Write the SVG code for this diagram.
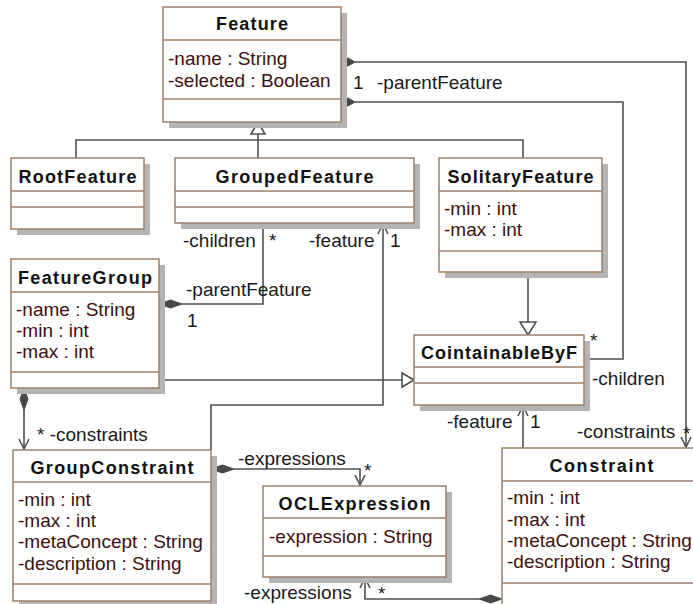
<svg xmlns="http://www.w3.org/2000/svg" width="693" height="604" viewBox="0 0 693 604">
  <style>
    .shadow { fill: #b4b4b4; }
    .box { fill: #ffffff; stroke: #9c8169; stroke-width: 1.5; }
    .sep { stroke: #9c8169; stroke-width: 1.5; }
    .title { font-family: "Liberation Sans", Arial, sans-serif; font-size: 18px; font-weight: bold; fill: #111111; text-anchor: middle; }
    .attr { font-family: "Liberation Sans", Arial, sans-serif; font-size: 19px; fill: #3d1010; }
    .lbl { font-family: "Liberation Sans", Arial, sans-serif; font-size: 19px; fill: #1a1a1a; }
    .line { fill: none; stroke: #505050; stroke-width: 1.6; }
    .diamond { fill: #484848; stroke: #484848; stroke-width: 1; }
    .tri { fill: #ffffff; stroke: #505050; stroke-width: 1.6; }
  </style>
  <defs>
    <marker id="open" viewBox="-12 -7 14 14" markerWidth="14" markerHeight="14" refX="0" refY="0" orient="auto" markerUnits="userSpaceOnUse">
      <path d="M-10,-5 L0,0 L-10,5" fill="none" stroke="#505050" stroke-width="1.6"/>
    </marker>
  </defs>
  <rect width="693" height="604" fill="#ffffff"/>

  <!-- connectors -->
  <g id="connectors">
    <!-- Feature <>-> Constraint (parentFeature / constraints) -->
    <path class="line" d="M355,62 H686 V447" marker-end="url(#open)"/>
    <polygon class="diamond" points="341,62 348,58 355,62 348,66"/>
    <!-- Feature <>- CointainableByF (parentFeature / children) -->
    <path class="line" d="M355,102 H623 V359 H584"/>
    <polygon class="diamond" points="341,102 348,98 355,102 348,106"/>
    <!-- generalizations to Feature -->
    <path class="line" d="M76,158 V140 H523 V158"/>
    <path class="line" d="M258,158 V134"/>
    <polygon class="tri" points="258,122 251,134 265,134"/>
    <!-- SolitaryFeature -> CointainableByF -->
    <path class="line" d="M528,272 V322"/>
    <polygon class="tri" points="528,335 520,322 536,322"/>
    <!-- FeatureGroup -> CointainableByF -->
    <path class="line" d="M159,380 H402"/>
    <polygon class="tri" points="414,380 402,373 402,387"/>
    <!-- FeatureGroup <>- GroupedFeature -->
    <path class="line" d="M182,304 H263 V223"/>
    <polygon class="diamond" points="159,304 170.5,300 182,304 170.5,308"/>
    <!-- GroupConstraint -> GroupedFeature -->
    <path class="line" d="M211,450 V405 H383 V224" marker-end="url(#open)"/>
    <!-- FeatureGroup <>-> GroupConstraint -->
    <path class="line" d="M24,410 V449" marker-end="url(#open)"/>
    <polygon class="diamond" points="24,388 28,399 24,410 20,399"/>
    <!-- GroupConstraint <>-> OCLExpression -->
    <path class="line" d="M234,469 H360 V485" marker-end="url(#open)"/>
    <polygon class="diamond" points="211,469 222.5,465 234,469 222.5,473"/>
    <!-- Constraint <>-> OCLExpression -->
    <path class="line" d="M479,599 H365 V578" marker-end="url(#open)"/>
    <polygon class="diamond" points="502,599 490.5,595 479,599 490.5,603"/>
    <!-- Constraint -> CointainableByF -->
    <path class="line" d="M523,448 V406" marker-end="url(#open)"/>

    <!-- role and multiplicity labels -->
    <text class="lbl" x="353" y="89">1</text>
    <text class="lbl" x="377" y="89">-parentFeature</text>
    <text class="lbl" x="590" y="347">*</text>
    <text class="lbl" x="592" y="385">-children</text>
    <text class="lbl" x="577" y="438">-constraints</text>
    <text class="lbl" x="683" y="440">*</text>
    <text class="lbl" x="447" y="428">-feature</text>
    <text class="lbl" x="530" y="428">1</text>
    <text class="lbl" x="183" y="247">-children</text>
    <text class="lbl" x="269" y="247">*</text>
    <text class="lbl" x="309" y="247">-feature</text>
    <text class="lbl" x="390" y="247">1</text>
    <text class="lbl" x="186" y="296">-parentFeature</text>
    <text class="lbl" x="187" y="327">1</text>
    <text class="lbl" x="37" y="441">* -constraints</text>
    <text class="lbl" x="238" y="465">-expressions</text>
    <text class="lbl" x="364" y="477">*</text>
    <text class="lbl" x="244" y="599">-expressions</text>
    <text class="lbl" x="378" y="600">*</text>
  </g>

  <!-- classes -->
  <g id="Feature">
    <rect class="shadow" x="169" y="13" width="178" height="115"/>
    <rect class="box" x="163" y="7" width="178" height="115"/>
    <line class="sep" x1="163" y1="40" x2="341" y2="40"/>
    <line class="sep" x1="163" y1="99" x2="341" y2="99"/>
    <text class="title" x="252" y="30" textLength="72" lengthAdjust="spacing">Feature</text>
    <text class="attr" x="168" y="65">-name : String</text>
    <text class="attr" x="168" y="87">-selected : Boolean</text>
  </g>

  <g id="RootFeature">
    <rect class="shadow" x="17" y="164" width="133" height="71"/>
    <rect class="box" x="11" y="158" width="133" height="71"/>
    <line class="sep" x1="11" y1="191" x2="144" y2="191"/>
    <line class="sep" x1="11" y1="207" x2="144" y2="207"/>
    <text class="title" x="77.5" y="183" textLength="118" lengthAdjust="spacing">RootFeature</text>
  </g>

  <g id="GroupedFeature">
    <rect class="shadow" x="181" y="164" width="239" height="65"/>
    <rect class="box" x="175" y="158" width="239" height="65"/>
    <line class="sep" x1="175" y1="191" x2="414" y2="191"/>
    <line class="sep" x1="175" y1="207" x2="414" y2="207"/>
    <text class="title" x="294.5" y="183" textLength="158" lengthAdjust="spacing">GroupedFeature</text>
  </g>

  <g id="SolitaryFeature">
    <rect class="shadow" x="445" y="164" width="163" height="114"/>
    <rect class="box" x="439" y="158" width="163" height="114"/>
    <line class="sep" x1="439" y1="191" x2="602" y2="191"/>
    <line class="sep" x1="439" y1="251" x2="602" y2="251"/>
    <text class="title" x="520.5" y="183" textLength="146" lengthAdjust="spacing">SolitaryFeature</text>
    <text class="attr" x="444" y="215">-min : int</text>
    <text class="attr" x="444" y="236">-max : int</text>
  </g>

  <g id="FeatureGroup">
    <rect class="shadow" x="17" y="265" width="148" height="129"/>
    <rect class="box" x="11" y="259" width="148" height="129"/>
    <line class="sep" x1="11" y1="292" x2="159" y2="292"/>
    <line class="sep" x1="11" y1="372" x2="159" y2="372"/>
    <text class="title" x="85" y="284" textLength="134" lengthAdjust="spacing">FeatureGroup</text>
    <text class="attr" x="16" y="316">-name : String</text>
    <text class="attr" x="16" y="337">-min : int</text>
    <text class="attr" x="16" y="358">-max : int</text>
  </g>

  <g id="CointainableByF">
    <rect class="shadow" x="420" y="341" width="170" height="70"/>
    <rect class="box" x="414" y="335" width="170" height="70"/>
    <line class="sep" x1="414" y1="367" x2="584" y2="367"/>
    <line class="sep" x1="414" y1="383" x2="584" y2="383"/>
    <text class="title" x="499" y="359" textLength="156" lengthAdjust="spacing">CointainableByF</text>
  </g>

  <g id="GroupConstraint">
    <rect class="shadow" x="19" y="456" width="198" height="151"/>
    <rect class="box" x="13" y="450" width="198" height="151"/>
    <line class="sep" x1="13" y1="482" x2="211" y2="482"/>
    <line class="sep" x1="13" y1="584" x2="211" y2="584"/>
    <text class="title" x="112" y="474" textLength="163" lengthAdjust="spacing">GroupConstraint</text>
    <text class="attr" x="18" y="506">-min : int</text>
    <text class="attr" x="18" y="527">-max : int</text>
    <text class="attr" x="18" y="548">-metaConcept : String</text>
    <text class="attr" x="18" y="570">-description : String</text>
  </g>

  <g id="OCLExpression">
    <rect class="shadow" x="269" y="492" width="183" height="91"/>
    <rect class="box" x="263" y="486" width="183" height="91"/>
    <line class="sep" x1="263" y1="518" x2="446" y2="518"/>
    <line class="sep" x1="263" y1="556" x2="446" y2="556"/>
    <text class="title" x="354.5" y="510" textLength="152" lengthAdjust="spacing">OCLExpression</text>
    <text class="attr" x="269" y="543">-expression : String</text>
  </g>

  <g id="Constraint">
    <rect class="shadow" x="508" y="454" width="200" height="170"/>
    <rect class="box" x="502" y="448" width="200" height="170"/>
    <line class="sep" x1="502" y1="481" x2="702" y2="481"/>
    <line class="sep" x1="502" y1="583" x2="702" y2="583"/>
    <text class="title" x="601.5" y="472" textLength="104" lengthAdjust="spacing">Constraint</text>
    <text class="attr" x="507" y="504">-min : int</text>
    <text class="attr" x="507" y="526">-max : int</text>
    <text class="attr" x="507" y="547">-metaConcept : String</text>
    <text class="attr" x="507" y="568">-description : String</text>
  </g>
</svg>
